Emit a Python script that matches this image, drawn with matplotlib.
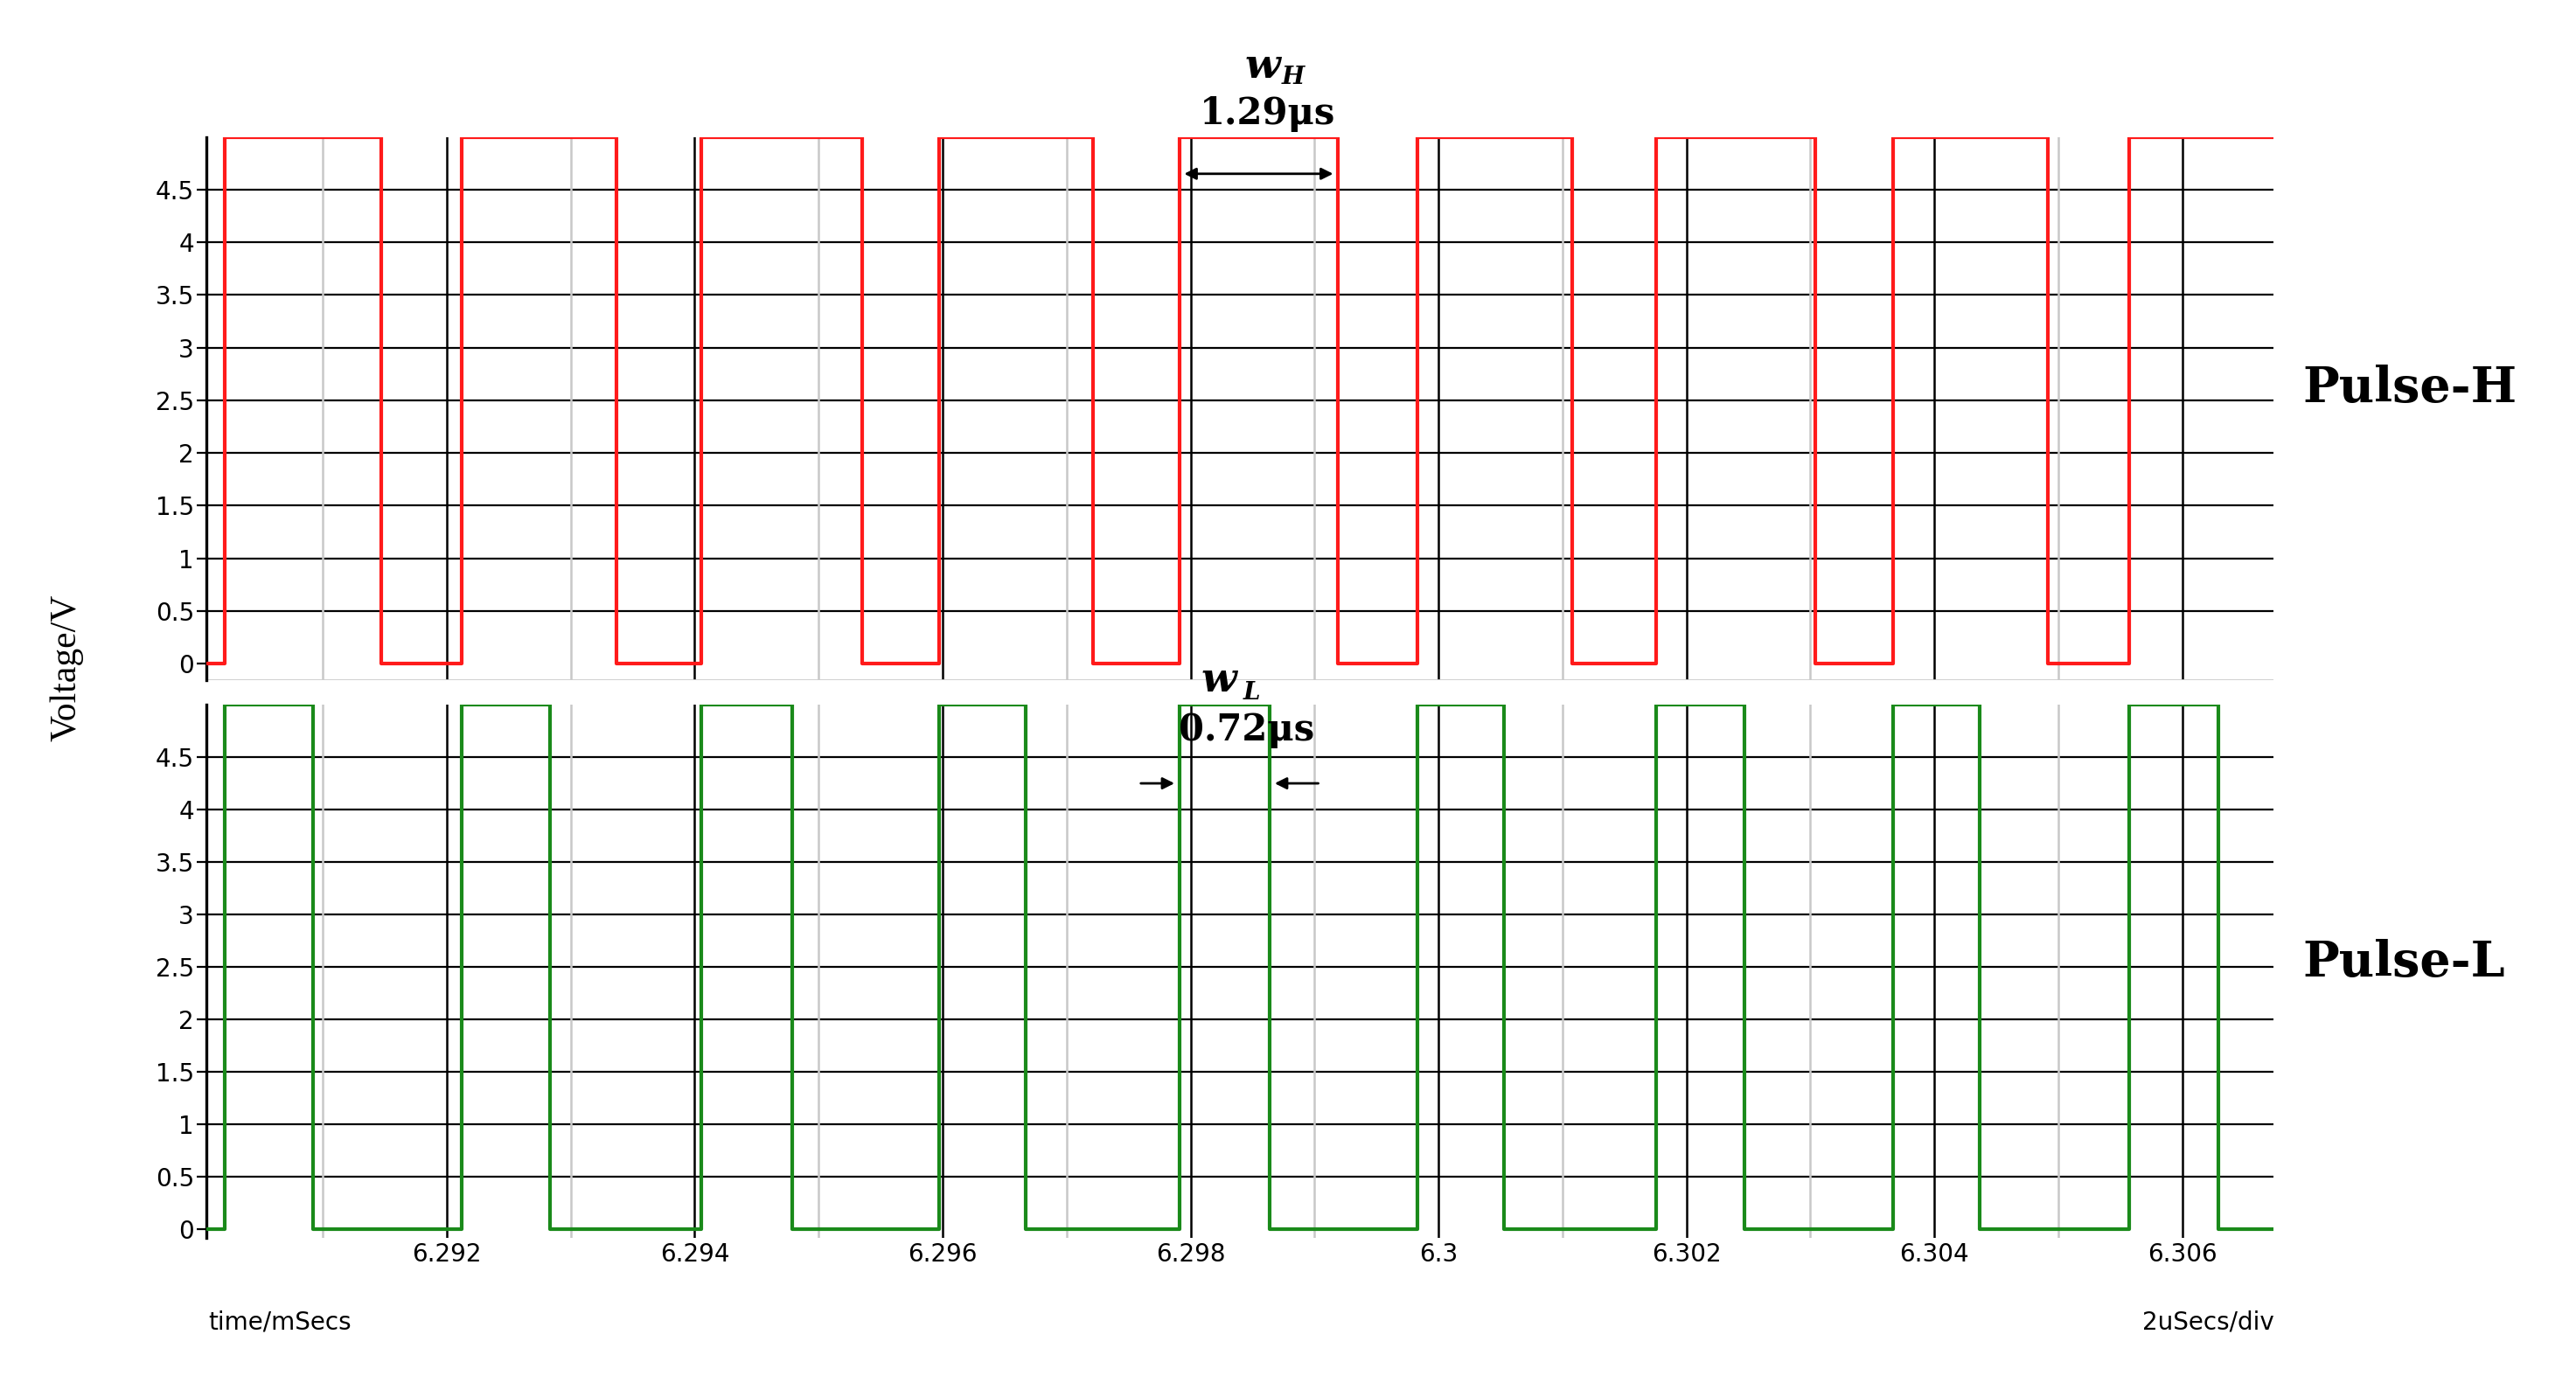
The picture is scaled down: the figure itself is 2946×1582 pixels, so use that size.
import matplotlib
matplotlib.use("Agg")
import matplotlib.pyplot as plt
import numpy as np

x_start, x_end = 6.29006, 6.30674
rises = [6.29021, 6.29212, 6.29405, 6.29597, 6.29791, 6.29983, 6.30176, 6.30367, 6.30557]
falls_h = [6.29147, 6.29337, 6.29535, 6.29721, 6.29919, 6.30108, 6.30304, 6.30492]
falls_l = [6.29092, 6.29283, 6.29479, 6.29667, 6.29864, 6.30053, 6.30247, 6.30437, 6.30629]
high_v = 5.0
xticks = [6.292, 6.294, 6.296, 6.298, 6.300, 6.302, 6.304, 6.306]
xtick_labels = ["6.292", "6.294", "6.296", "6.298", "6.3", "6.302", "6.304", "6.306"]
yticks = [0, 0.5, 1, 1.5, 2, 2.5, 3, 3.5, 4, 4.5]
ytick_labels = ["0", "0.5", "1", "1.5", "2", "2.5", "3", "3.5", "4", "4.5"]

def wave(rises, falls):
    xs, ys = [x_start], [0]
    for i, r in enumerate(rises):
        xs += [r, r]; ys += [0, high_v]
        if i < len(falls):
            xs += [falls[i], falls[i]]; ys += [high_v, 0]
    xs.append(x_end); ys.append(ys[-1])
    return xs, ys

fig = plt.figure(figsize=(14.73, 7.91), dpi=200)
axH = fig.add_axes([0.0801, 0.508, 0.8026, 0.393])
axL = fig.add_axes([0.0801, 0.105, 0.8026, 0.3855])

def style(ax, ymin, showx):
    ax.set_xlim(x_start, x_end)
    ax.set_ylim(ymin, 5.0)
    for y in yticks[1:]:
        ax.axhline(y, color="black", lw=0.8, zorder=1)
    for t in xticks:
        ax.axvline(t, color="black", lw=0.9, zorder=1)
        ax.axvline(t - 0.001, color="#c8c8c8", lw=0.9, zorder=1)
    ax.set_yticks(yticks)
    ax.set_yticklabels(ytick_labels, fontsize=10)
    ax.set_xticks(xticks)
    if showx:
        ax.set_xticklabels(xtick_labels, fontsize=10)
    else:
        ax.set_xticklabels([])
        ax.tick_params(axis="x", length=0)
    ax.tick_params(axis="y", length=4, pad=1)
    for s in ["top", "right"]:
        ax.spines[s].set_visible(False)
    ax.spines["bottom"].set_visible(False)
    ax.spines["left"].set_linewidth(1.2)

style(axH, -0.16, False)
style(axL, -0.08, True)
axH.axhline(-0.16, color="#cccccc", lw=1.0)
xs, ys = wave(rises, falls_h)
axH.plot(xs, ys, color="#ff1a1a", lw=1.5, zorder=3)
xs, ys = wave(rises, falls_l)
axL.plot(xs, ys, color="#1a8a1a", lw=1.5, zorder=3)
axL.tick_params(axis="x", length=0, pad=2)

axH.annotate("", xy=(rises[4], 4.65), xytext=(falls_h[4], 4.65),
             arrowprops=dict(arrowstyle="<|-|>", color="black", lw=1, mutation_scale=10))
axL.annotate("", xy=(rises[4], 4.25), xytext=(rises[4] - 0.00035, 4.25),
             arrowprops=dict(arrowstyle="-|>", color="black", lw=1, mutation_scale=10))
axL.annotate("", xy=(falls_l[4], 4.25), xytext=(falls_l[4] + 0.00043, 4.25),
             arrowprops=dict(arrowstyle="-|>", color="black", lw=1, mutation_scale=10))

fig.text(0.490, 0.952, "w", fontsize=17,
         family="DejaVu Serif", fontweight="bold", style="italic", ha="center", va="center")
fig.text(0.502, 0.944, "H", fontsize=10, family="DejaVu Serif", fontweight="bold",
         style="italic", ha="center", va="center")
fig.text(0.492, 0.918, "1.29\u03bcs", fontsize=15, family="DejaVu Serif", fontweight="bold",
         ha="center", va="center")
fig.text(0.473, 0.508, "w", fontsize=17, family="DejaVu Serif", fontweight="bold",
         style="italic", ha="center", va="center")
fig.text(0.486, 0.499, "L", fontsize=10, family="DejaVu Serif", fontweight="bold",
         style="italic", ha="center", va="center")
fig.text(0.484, 0.472, "0.72\u03bcs", fontsize=15, family="DejaVu Serif", fontweight="bold",
         ha="center", va="center")

fig.text(0.894, 0.719, "Pulse-H", fontsize=20, family="DejaVu Serif", fontweight="bold", va="center")
fig.text(0.894, 0.304, "Pulse-L", fontsize=20, family="DejaVu Serif", fontweight="bold", va="center")
fig.text(0.026, 0.517, "Voltage/V", fontsize=15, family="Liberation Serif", rotation=90,
         ha="center", va="center")
fig.text(0.081, 0.044, "time/mSecs", fontsize=10, ha="left", va="center")
fig.text(0.8827, 0.044, "2uSecs/div", fontsize=10, ha="right", va="center")

fig.savefig("out.png", dpi=200, facecolor="white")
